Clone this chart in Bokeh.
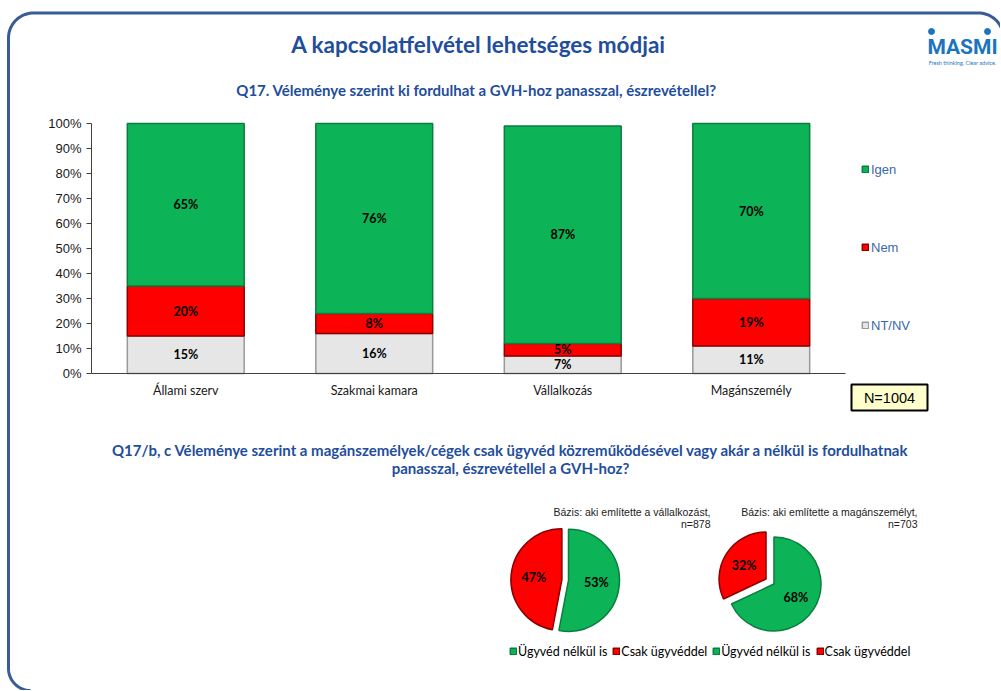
import math
from bokeh.plotting import figure
from bokeh.models import Range1d, LinearAxis, FixedTicker, Legend, LegendItem
from bokeh.core.properties import value
from bokeh.embed import file_html
from bokeh.resources import INLINE

# ---------------- data ----------------
title = "A kapcsolatfelvétel lehetséges módjai"
subtitle1 = "Q17. Véleménye szerint ki fordulhat a GVH-hoz panasszal, észrevétellel?"
subtitle2 = ["Q17/b, c Véleménye szerint a magánszemélyek/cégek csak ügyvéd közreműködésével vagy akár a nélkül is fordulhatnak",
             "panasszal, észrevétellel a GVH-hoz?"]
categories = ["Állami szerv", "Szakmai kamara", "Vállalkozás", "Magánszemély"]
nt_nv = [15, 16, 7, 11]
nem = [20, 8, 5, 19]
igen = [65, 76, 87, 70]
y_ticks = [0, 10, 20, 30, 40, 50, 60, 70, 80, 90, 100]
y_tick_labels = ["0%", "10%", "20%", "30%", "40%", "50%", "60%", "70%", "80%", "90%", "100%"]
n_label = "N=1004"

pie_labels = ["Ügyvéd nélkül is", "Csak ügyvéddel"]
pie_vallalkozas = [53, 47]
pie_maganszemely = [68, 32]
pie_notes = [["Bázis: aki említette a vállalkozást,", "n=878"],
             ["Bázis: aki említette a magánszemélyt,", "n=703"]]

# ---------------- styles ----------------
GREEN, GREEN_L = "#0DB457", "#0A7E3E"
RED, RED_L = "#FF0000", "#8A0000"
GRAY, GRAY_L = "#E6E6E6", "#9A9A9A"
BLUE = "#1F4E9B"
W, H = 1000, 690


def Y(py):
    return H - py


p = figure(width=W, height=H, x_range=Range1d(0, W), y_range=Range1d(0, H),
           x_axis_type=None, y_axis_type=None, min_border=0, toolbar_location=None,
           output_backend="svg", outline_line_color=None,
           background_fill_color="white", border_fill_color="white")

# slide border (rounded frame)
bx, by = [], []
for k in range(0, 21):  # bottom-left corner, from bottom up to left side
    a = math.pi / 2 + (math.pi / 2) * (k / 20)
    bx.append(30 + 22 * math.cos(a)); by.append(Y(668 + 22 * math.sin(a)))
for k in range(0, 21):  # top-left corner
    a = math.pi + (math.pi / 2) * (k / 20)
    bx.append(33 + 25 * math.cos(a)); by.append(Y(37.5 + 25 * math.sin(a)))
for k in range(0, 21):  # top-right corner
    a = 1.5 * math.pi + (math.pi / 2) * (k / 20)
    bx.append(978 + 25 * math.cos(a)); by.append(Y(37.5 + 25 * math.sin(a)))
p.line(bx, by, line_color="#3A5C96", line_width=3)

# titles
p.text(x=[478], y=[Y(44)], text=[title], text_font=value("Lato"), text_font_style="bold",
       text_font_size="22.5px", text_color=BLUE, text_align="center", text_baseline="middle")
p.text(x=[476], y=[Y(89)], text=[subtitle1], text_font=value("Lato"), text_font_style="bold",
       text_font_size="15px", text_color=BLUE, text_align="center", text_baseline="middle")
p.text(x=[510, 510], y=[Y(449), Y(467)], text=subtitle2, text_font=value("Lato"), text_font_style="bold",
       text_font_size="15px", text_color=BLUE, text_align="center", text_baseline="middle")

# logo
p.text(x=[962], y=[Y(46)], text=["MASMI"], text_font=value("Roboto"), text_font_style="bold",
       text_font_size="21px", text_color="#1C75BC", text_align="center", text_baseline="middle")
p.scatter(x=[931, 987], y=[Y(31), Y(31)], size=6, color="#1C75BC")
p.text(x=[962], y=[Y(62)], text=["Fresh thinking. Clear advice."], text_font=value("Lato"),
       text_font_size="5.5px", text_color="#1C75BC", text_align="center", text_baseline="middle")

# ---------------- bar chart (own scales) ----------------
CAT_W = 188.5
X0 = 91          # left end of category axis
Y0 = H - 373     # 0% level
PX_PCT = 2.5
p.extra_x_ranges = {"cat": Range1d(-X0 / CAT_W, (W - X0) / CAT_W)}
p.extra_y_ranges = {"pct": Range1d(-Y0 / PX_PCT, (H - Y0) / PX_PCT)}

xs = [i + 0.5 for i in range(len(categories))]
b1 = [0] * len(categories)
t1 = [a + b for a, b in zip(b1, nt_nv)]
t2 = [a + b for a, b in zip(t1, nem)]
t3 = [a + b for a, b in zip(t2, igen)]

kw = dict(x_range_name="cat", y_range_name="pct", width=0.62, line_width=1.5)
r_nt = p.vbar(x=xs, bottom=b1, top=t1, fill_color=GRAY, line_color=GRAY_L, **kw)
r_nem = p.vbar(x=xs, bottom=t1, top=t2, fill_color=RED, line_color=RED_L, **kw)
r_igen = p.vbar(x=xs, bottom=t2, top=t3, fill_color=GREEN, line_color=GREEN_L, **kw)

lab_x, lab_y, lab_t = [], [], []
for bottoms, vals in ((b1, nt_nv), (t1, nem), (t2, igen)):
    for x, b, v in zip(xs, bottoms, vals):
        lab_x.append(x); lab_y.append(b + v / 2); lab_t.append(f"{v}%")
p.text(x=lab_x, y=lab_y, text=lab_t, x_range_name="cat", y_range_name="pct",
       text_font=value("Lato"), text_font_style="bold", text_font_size="12.5px",
       text_color="black", text_align="center", text_baseline="middle")

yax = LinearAxis(x_range_name="cat", y_range_name="pct", fixed_location=0, bounds=(0, 100),
                 ticker=FixedTicker(ticks=y_ticks),
                 major_label_overrides=dict(zip(y_ticks, y_tick_labels)),
                 minor_tick_line_color=None, major_tick_in=0, major_tick_out=5,
                 axis_line_color="#404040", major_tick_line_color="#404040",
                 major_label_text_font="Liberation Sans", major_label_text_font_size="13px",
                 major_label_text_color="#1a1a1a", major_label_standoff=5)
p.add_layout(yax, "left")
xax = LinearAxis(x_range_name="cat", y_range_name="pct", fixed_location=0, bounds=(0, 4),
                 ticker=FixedTicker(ticks=xs),
                 major_label_overrides=dict(zip(xs, categories)),
                 minor_tick_line_color=None, major_tick_line_color=None,
                 axis_line_color="#404040",
                 major_label_text_font="Lato", major_label_text_font_size="12.5px",
                 major_label_text_color="#1a1a1a", major_label_standoff=3)
p.add_layout(xax, "below")

leg1 = Legend(items=[LegendItem(label="Igen", renderers=[r_igen]),
                     LegendItem(label="Nem", renderers=[r_nem]),
                     LegendItem(label="NT/NV", renderers=[r_nt])],
              location=(861, H - 332.5), orientation="vertical", glyph_width=8, glyph_height=8,
              label_height=14, spacing=63, label_standoff=2, padding=0, margin=0,
              border_line_color=None, background_fill_alpha=0,
              label_text_font="Liberation Sans", label_text_font_size="13px",
              label_text_color="#3A69A8")
p.add_layout(leg1)

# N box
p.quad(left=[851], right=[927], top=[Y(384)], bottom=[Y(410)], fill_color="#FFFFCC",
       line_color="black", line_width=2)
p.text(x=[889], y=[Y(397)], text=[n_label], text_font=value("Liberation Sans"),
       text_font_size="14.5px", text_color="black", text_align="center", text_baseline="middle")


# ---------------- pies ----------------
def draw_pie(cx, cy, r, vals, explode):
    rends = []
    cum = 0
    colors = [(GREEN, GREEN_L), (RED, RED_L)]
    for v, (fc, lc) in zip(vals, colors):
        a0, a1 = cum / 100, (cum + v) / 100
        mid = 2 * math.pi * (a0 + a1) / 2
        dx, dy = explode * math.sin(mid), explode * math.cos(mid)
        ox, oy = cx + dx, Y(cy) + dy
        rr = p.wedge(x=[ox], y=[oy], radius=r, start_angle=math.pi / 2 - 2 * math.pi * a1,
                     end_angle=math.pi / 2 - 2 * math.pi * a0, direction="anticlock",
                     fill_color=fc, line_color=lc, line_width=1.5)
        rends.append(rr)
        d = 0.55 * r
        p.text(x=[ox + d * math.sin(mid)], y=[oy + d * math.cos(mid)], text=[f"{v}%"],
               text_font=value("Lato"), text_font_style="bold", text_font_size="12.5px",
               text_color="black", text_align="center", text_baseline="middle")
        cum += v
    return rends


pie1 = draw_pie(564.7, 579.5, 51, pie_vallalkozas, 3.3)
pie2 = draw_pie(769.5, 581, 47, pie_maganszemely, 4.7)

for xr, (l1, l2) in zip([710, 917], pie_notes):
    p.text(x=[xr, xr], y=[Y(511), Y(523)], text=[l1, l2], text_font=value("Liberation Sans"),
           text_font_size="10.5px", text_color="#222222", text_align="right", text_baseline="middle")

leg2 = Legend(items=[LegendItem(label=pie_labels[0], renderers=[pie1[0]]),
                     LegendItem(label=pie_labels[1], renderers=[pie1[1]]),
                     LegendItem(label=pie_labels[0], renderers=[pie2[0]]),
                     LegendItem(label=pie_labels[1], renderers=[pie2[1]])],
              location=(509, H - 658.5), orientation="horizontal", glyph_width=8, glyph_height=8,
              label_height=14, spacing=5, label_standoff=1, padding=0, margin=0,
              border_line_color=None, background_fill_alpha=0,
              label_text_font="Lato", label_text_font_size="12.5px", label_text_color="black")
p.add_layout(leg2)

open("out.html", "w").write(file_html(p, INLINE))
